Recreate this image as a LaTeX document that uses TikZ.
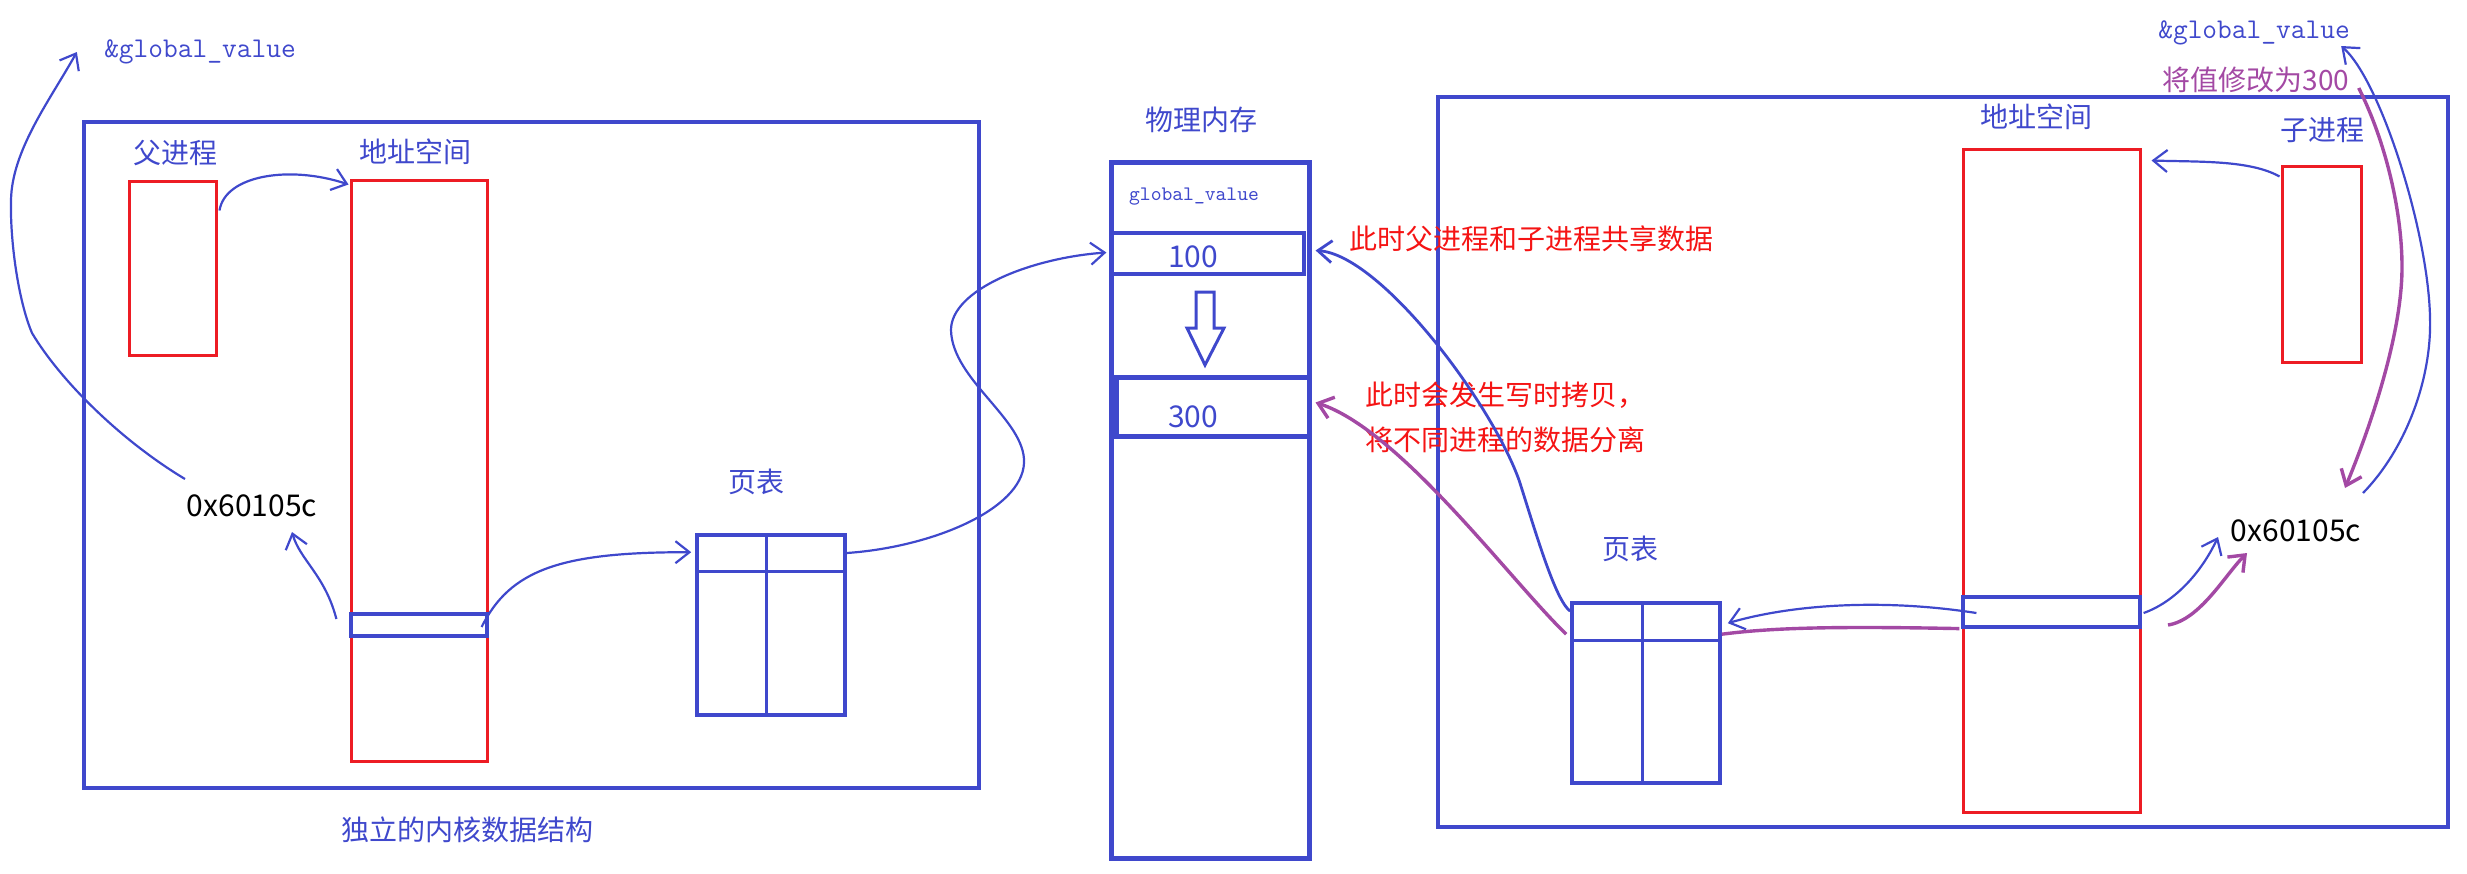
\documentclass[tikz,border=0pt]{standalone}
\usepackage{fontspec}
\newfontfamily\cjk{Noto Sans CJK SC}
\usetikzlibrary{arrows.meta,fit,calc}
\definecolor{bluec}{RGB}{63,72,204}
\definecolor{redc}{RGB}{237,28,36}
\definecolor{purc}{RGB}{163,73,164}
\definecolor{notered}{RGB}{245,20,20}
\tikzset{
  bigframe/.style={draw=bluec, line width=1.7pt, inner sep=0pt},
  redrect/.style={draw=redc, line width=1.5pt, inner sep=0pt},
  ptrect/.style={draw=bluec, line width=1.8pt, inner sep=0pt},
  memrect/.style={draw=bluec, line width=2.5pt, inner sep=0pt},
  slotrect/.style={draw=bluec, line width=1.6pt, inner sep=0pt},
  lbltext/.style={text=bluec, font=\cjk\fontsize{14}{16}\selectfont, inner sep=0pt},
  notetext/.style={text=notered, font=\cjk\fontsize{14}{16}\selectfont, inner sep=0pt, anchor=west},
  addrtext/.style={text=black, font=\cjk\fontsize{15}{17}\selectfont, inner sep=0pt},
  numtext/.style={text=bluec, font=\cjk\fontsize{15}{17}\selectfont, inner sep=0pt},
  codetext/.style={text=bluec, font=\ttfamily\fontsize{14.3}{16}\selectfont, inner sep=0pt},
  thinline/.style={draw=bluec, line width=1.1pt},
  purline/.style={draw=purc, line width=1.7pt},
  barbtip/.style={-{Straight Barb[length=7pt,width=11pt]}},
  divline/.style={draw=bluec, line width=1.3pt},
}
\begin{document}
\begin{tikzpicture}[x=0.5pt,y=-0.5pt]
\useasboundingbox (0,0) rectangle (2467,873);
% ---------- left: parent process ----------
\node[bigframe, fit={(84,122) (979,788)}] (frameL) {};
\node[redrect, fit={(129,181) (216,355)}] (parent) {};
\node[lbltext] (parentlbl) at (175,153) {父进程};
\node[redrect, fit={(351,180) (487,761)}] (asL) {};
\node[lbltext] (asLlbl) at (415,152) {地址空间};
\node[slotrect, fit={(351,614) (487,636)}] (slotL) {};
\node[ptrect, fit={(697,535) (845,715)}] (ptL) {};
\draw[divline] ($(ptL.north west)+(71,0)$) -- ($(ptL.south west)+(71,0)$);
\draw[divline] ($(ptL.north west)+(0,38)$) -- ($(ptL.north east)+(0,38)$);
\node[lbltext] (ptLlbl) at (756,482) {页表};
\node[addrtext] (addrL) at (252,506) {0x60105c};
\node[codetext] (codeL) at (200,52) {\&global\_value};
\node[lbltext] (kernlbl) at (467,830) {独立的内核数据结构};
% ---------- middle: physical memory ----------
\node[memrect, fit={(1111,162) (1309,858)}] (mem) {};
\node[lbltext] (memlbl) at (1201,120) {物理内存};
\node[codetext, font=\ttfamily\fontsize{10.3}{12}\selectfont] (gv) at (1194,197) {global\_value};
\node[slotrect, fit={(1111,233) (1304,274)}] (cell100) {};
\node[numtext] (v100) at (1193,257) {100};
\draw[bluec, line width=1.5pt] (1196,292) -- (1214,292) -- (1214,328) -- (1224,328) -- (1205,365) -- (1187,328) -- (1196,328) -- cycle;
\node[memrect, fit={(1116,377) (1309,436)}] (cell300) {};
\node[numtext] (v300) at (1193,417) {300};
% ---------- right: child process ----------
\node[bigframe, fit={(1438,97) (2448,827)}] (frameR) {};
\node[redrect, fit={(1963,149) (2140,812)}] (asR) {};
\node[lbltext] (asRlbl) at (2036,117) {地址空间};
\node[slotrect, fit={(1963,597) (2140,627)}] (slotR) {};
\node[redrect, fit={(2282,166) (2361,362)}] (child) {};
\node[lbltext] (childlbl) at (2322,130) {子进程};
\node[ptrect, fit={(1572,603) (1720,783)}] (ptR) {};
\draw[divline] ($(ptR.north west)+(72,0)$) -- ($(ptR.south west)+(72,0)$);
\draw[divline] ($(ptR.north west)+(0,39)$) -- ($(ptR.north east)+(0,39)$);
\node[lbltext] (ptRlbl) at (1630,549) {页表};
\node[addrtext] (addrR) at (2296,531) {0x60105c};
\node[codetext] (codeR) at (2254,33) {\&global\_value};
\node[lbltext, text=purc] (modR) at (2256,80) {将值修改为300};
\node[notetext] (note1) at (1349,239) {此时父进程和子进程共享数据};
\node[notetext] (note2) at (1365,395) {此时会发生写时拷贝，};
\node[notetext] (note3) at (1365,440) {将不同进程的数据分离};
% ---------- connectors, left ----------
\draw[thinline, barbtip] ($(parent.north east)+(2,31)$) .. controls (225,175) and (290,165) .. ($(asL.north west)+(-1,6)$);
\draw[thinline, barbtip] ($(slotL.west)+(-13,-6)$) .. controls (325,575) and (300,560) .. ($(addrL.center)+(40,26)$);
\draw[thinline, barbtip] ($(addrL.center)+(-67,-27)$) .. controls (120,440) and (60,380) .. (32,333) .. controls (18,300) and (10,240) .. (11,200) .. controls (12,150) and (50,100) .. ($(codeL.west)+(-27,0)$);
\draw[thinline, barbtip] ($(slotL.east)+(-7,2)$) .. controls (510,570) and (560,552) .. ($(ptL.north west)+(-4,19)$);
\draw[thinline, barbtip] ($(ptL.north east)+(-3,20)$) .. controls (930,548) and (1022,510) .. (1024,463) .. controls (1026,420) and (952,380) .. (951,330) .. controls (951,290) and (1030,258) .. ($(cell100.west)+(-3,-1)$);
% ---------- connectors, right ----------
\draw[thinline, line width=1.4pt, barbtip] ($(ptR.north west)+(0,10)$) .. controls (1555,600) and (1535,530) .. (1519,480) .. controls (1490,400) and (1380,255) .. ($(cell100.east)+(10,-3)$);
\draw[purline, barbtip] ($(ptR.north west)+(-4,33)$) .. controls (1510,580) and (1400,430) .. ($(cell300.east)+(4,-4)$);
\draw[thinline, barbtip] ($(slotR.west)+(15,1)$) .. controls (1880,598) and (1790,605) .. ($(ptR.north east)+(6,22)$);
\draw[purline] ($(slotR.south west)+(-2,0)$) .. controls (1830,626) and (1770,628) .. ($(ptR.north east)+(0,33)$);
\draw[thinline, barbtip] ($(child.north west)+(-1,12)$) .. controls (2250,160) and (2200,162) .. ($(asR.north east)+(10,13)$);
\draw[thinline, barbtip] ($(slotR.east)+(2,1)$) .. controls (2180,600) and (2205,565) .. ($(addrR.center)+(-78,6)$);
\coordinate (pstart) at (2168,625);
\draw[purline, barbtip] (pstart) .. controls (2200,620) and (2225,575) .. ($(addrR.center)+(-49,22)$);
\draw[thinline, barbtip] ($(addrR.center)+(67,-38)$) .. controls (2405,450) and (2432,380) .. (2430,317) .. controls (2428,230) and (2380,80) .. ($(codeR.east)+(-9,13)$);
\draw[purline, barbtip] ($(modR.east)+(9,8)$) .. controls (2385,140) and (2402,210) .. (2402,267) .. controls (2402,340) and (2365,440) .. ($(addrR.center)+(49,-43)$);
\end{tikzpicture}
\end{document}
